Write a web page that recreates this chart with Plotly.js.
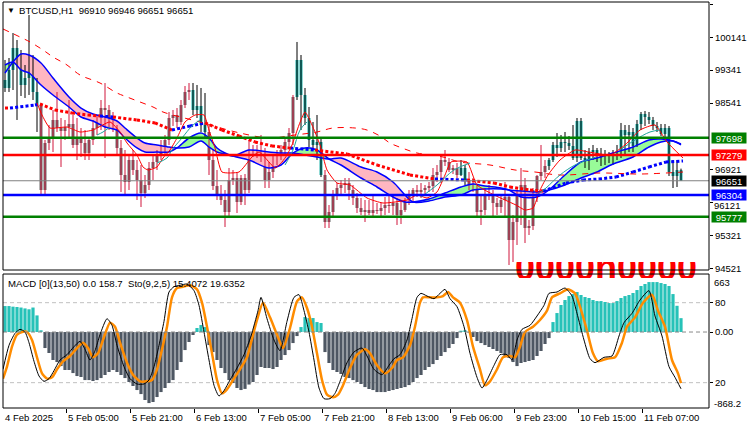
<!DOCTYPE html>
<html><head><meta charset="utf-8">
<script src="https://cdn.plot.ly/plotly-3.0.1.min.js"></script>
<style>html,body{margin:0;padding:0;background:#fff}#chart{width:750px;height:430px}</style>
</head><body><div id="chart"></div>
<script>
// ---------- DATA ----------
const symbolTitle = "BTCUSD,H1\u00a0\u00a096910 96946 96651 96651";
const macdTitle = "MACD [0](13,50) 0.0 158.7\u00a0\u00a0Sto(9,2,5) 15.4072 19.6352";

const open = [99101,98907,99345,99880,99466,98980,99150,99296,98810,98493,
96426,97569,97691,98129,97934,97861,97958,98031,97521,97691,
97569,97326,97642,97934,98080,98420,98372,98177,97934,97448,
96791,96621,97156,96913,96669,96353,96548,96961,97107,97277,
97448,97642,98177,98250,98080,98493,98810,98858,98372,98469,
98007,97837,97156,96523,96280,96183,95891,96669,96718,96134,
96718,96426,97399,97350,97326,97253,96669,96864,97156,97253,
97399,97594,97812,98688,99588,98737,98177,97642,97521,97594,
96791,95648,95891,96305,96475,96548,96596,96426,96232,95988,
95891,95940,95867,95940,95915,95988,96061,96037,96110,95818,
95940,96183,96305,96426,96378,96426,96475,96523,96791,96864,
97156,97107,96913,96961,96791,96961,96669,96523,96475,95891,
95940,96305,96280,96110,96013,96183,96256,95210,95648,96305,
96548,95502,95551,96426,96767,96864,97010,97156,97521,97448,
97594,97569,97496,97204,98104,97204,97156,97350,97399,97253,
97204,97277,97204,97277,97229,97885,97764,97837,97496,98031,
98275,98202,98129,97983,97934,97788,97934,96864,96767,96910];
const high = [99588,99636,100244,100074,99831,99466,100682,99709,99150,98542,
97642,98007,98372,98810,98177,98129,98615,98250,98177,97934,
97885,97691,98129,98250,98615,99028,98493,98323,98007,97642,
97399,97277,97399,97156,97034,96791,97107,97277,97399,97642,
97764,98323,98372,98420,98615,98955,99028,99028,98980,98907,
98785,98007,97399,96913,96548,96426,96961,96913,96864,96791,
96815,97642,97521,97521,97764,97448,97107,97277,97399,97521,
97691,97934,98737,100026,99709,98907,98445,98080,98250,97691,
96913,96061,96426,96596,96669,96718,96718,96548,96353,96232,
96183,96183,96305,96110,96134,96256,96280,96305,96232,96183,
96232,96426,96475,96548,96596,96548,96621,96961,97034,97253,
97399,97204,97034,97083,97156,97034,96864,96718,96548,96305,
96475,96548,96426,96232,96305,96621,96305,95818,96426,96961,
96718,95697,96475,96791,97521,97156,97204,97594,97812,97764,
97837,97739,98007,98177,98177,97399,97448,97521,97448,97448,
97399,97350,97399,97521,98056,98007,98007,97934,98129,98323,
98347,98323,98202,98080,98031,98031,97983,97156,97156,96946];
const low = [98810,98810,98858,98129,98712,98664,98737,98615,97837,96305,
96329,97399,97350,97837,96986,97642,97691,97448,97156,97229,
97156,97156,97521,97764,97885,97204,97885,97837,97277,96378,
96305,96426,96791,96183,96013,96232,96426,96669,96913,97156,
97277,97521,97983,97934,98007,98420,98615,98250,98177,97837,
97715,96791,96426,96183,96061,95526,95745,96548,95867,96061,
96061,96353,97229,97204,97107,96475,96475,96718,97034,97156,
97277,97496,97521,98615,97885,98007,97472,97399,97156,96742,
95502,95502,95745,96183,96280,96353,96183,96061,95867,95818,
95648,95818,95794,95843,95745,95818,95867,95818,95575,95599,
95891,96061,96110,96256,96232,96280,96378,96378,96621,96596,
97010,96864,96815,96718,96767,96548,96426,96378,95770,95575,
95818,96183,95770,95818,95867,95770,94602,94675,95089,95575,
95137,95332,95453,96134,96669,96718,96913,97107,97229,97350,
97350,97399,97156,97107,97156,96961,96913,97156,97107,97010,
97034,97083,97034,97156,97204,97277,97350,97350,97472,97885,
97983,98031,97885,97837,97739,97642,96767,96475,96499,96651];
const close = [98907,99345,99880,99466,98980,99150,99296,98810,98493,96426,
97569,97691,98129,97934,97861,97958,98031,97521,97691,97569,
97326,97642,97934,98080,98420,98372,98177,97934,97448,96791,
96621,97156,96913,96669,96353,96548,96961,97107,97277,97448,
97642,98177,98250,98080,98493,98810,98858,98372,98469,98007,
97837,97156,96523,96280,96183,95891,96669,96718,96134,96718,
96426,97399,97350,97326,97253,96669,96864,97156,97253,97399,
97594,97812,98688,99588,98737,98177,97642,97521,97594,96791,
95648,95891,96305,96475,96548,96596,96426,96232,95988,95891,
95940,95867,95940,95915,95988,96061,96037,96110,95818,95940,
96183,96305,96426,96378,96426,96475,96523,96791,96864,97156,
97107,96913,96961,96791,96961,96669,96523,96475,95891,95940,
96305,96280,96110,96013,96183,96256,95210,95648,96305,96548,
95502,95551,96426,96767,96864,97010,97156,97521,97448,97594,
97569,97496,97204,98104,97204,97156,97350,97399,97253,97204,
97277,97204,97277,97229,97885,97764,97837,97496,98031,98275,
98202,98129,97983,97934,97788,97934,96864,96767,96913,96651];
// bar-index ranges where candles are drawn in the "bull" (teal) colouring
const tealRanges = [[0,8],[47,50],[73,79],[114,115],[136,169]];

// MA cloud (fast / slow), keypoints at bar indices
const cloudX = [0,2,4,6,9,12,16,19,22,25,28,30,33,35,38,41,43,46,49,51,53,55,57,61,66,69,72,75,78,81,84,89,93,97,100,102,106,110,114,117,120,124,126,129,133,136,140,144,148,152,157,161,164,167,169];
const cloudFast = [99466,99539,99345,99272,98980,98737,98445,98202,98104,97958,97885,97691,97448,97350,97350,97350,97448,97691,97812,97691,97448,97326,97253,97156,96961,97034,97326,97448,97399,97180,97034,96718,96499,96256,96134,96134,96207,96353,96499,96572,96523,96475,96426,96256,96256,96426,96791,97107,97204,97326,97472,97642,97667,97618,97545];
const cloudSlow = [99272,99539,99734,99709,99515,99150,98688,98420,98275,98202,98104,97934,97691,97569,97521,97472,97448,97472,97618,97472,97350,97302,97253,97399,97350,97326,97326,97277,97229,97180,97204,96986,96864,96621,96305,96134,96159,96256,96305,96426,96451,96451,96426,96402,96378,96426,96548,96718,96864,97059,97229,97472,97594,97618,97521];

// dotted trend MA (colour code: r = red, b = blue)
const dotX = [0,1.25,7.5,8.75,12.5,16.75,20.75,23.75,27,33,37.5,41.75,46.25,50,54.25,58.5,62.5,66.75,71.25,77.5,85.5,93,101.25,107.5,115.5,122.25,126.25,131.25,134.5,140.25,144.5,148.5,152.75,157,161,165.25,169.5];
const dotY = [98420,98420,98493,98518,98372,98299,98250,98226,98202,98129,98056,97885,97983,98056,97885,97739,97594,97496,97448,97399,97302,97034,96791,96694,96669,96596,96499,96426,96402,96596,96669,96694,96742,96864,96986,97107,97132];
const dotC = ['r','b','b','r','r','r','r','b','r','r','r','b','b','r','r','r','r','r','b','r','r','r','r','b','r','r','r','r','b','b','b','b','b','b','b','b','b'];

// slow dashed red MA
const dashX = [-0.5,3.75,6.25,9.5,12,15.5,18.75,23.75,28,30.5,33.75,37,39.5,48.75,58.75,66.25,72.5,78,82,87.5,90.5,93.75,96.25,99.25,103,109.5,113.75,121.25,127.5,132.5,138.75,148.75,158.75,169.5];
const dashY = [100342,100147,100026,99831,99661,99466,99223,99028,98785,98688,98566,98445,98323,98080,97812,97691,97764,97837,97934,97934,97885,97739,97569,97448,97326,97229,97107,97034,96913,96864,96791,96840,96815,96864];

// thin fast red MA
const thinX = [8,9.25,11.25,15.5,18.75,22,26.25,28.75,30.5,33,34.5,35.75,38,39.5,41.25,43,45,47.5,49.75,51,52.5,54.25,58.5,61.75,63.5,66,67.5,69.25,70.5,71.75,73.5,75,76.75,78.75,80.5,83,86.25,90.5,94.5,100.5,103,105.5,108,110,111.5,115.5,118,122.25,125,127.75,130,132,133.75,135.75,138.75,142.5,146,151.25,155,158.75,162.5,165.5,169.5];
const thinY = [98542,98250,97934,97958,97837,97885,98080,97837,97569,97277,96986,96913,96986,97204,97399,97691,98080,98250,98250,97885,97448,96864,96864,97229,97350,97107,96961,97107,97277,97521,98007,98323,98007,97521,96913,96596,96548,96232,96110,96183,96305,96232,96378,96791,97107,97107,96548,96305,96183,96061,95940,95988,96426,96791,97156,97399,97350,97277,97521,97885,98007,97594,97204];

// thin teal line segments
const tealX = [23,24.5,26.25,null,38,40.5,41.75,44.25,46.75,48.75,null,70,72,73.75,75.5,null,104,108,112.25,116.25,null,133,135.25,138.75,142.5,147.75,null,153.75,157.5,161.25,163.75];
const tealY = [97764,97837,97958,null,97083,97204,97399,97691,97983,98129,null,97034,97399,97885,98080,null,96256,96548,96913,97083,null,96305,96475,96791,97034,97229,null,97399,97642,97837,97885];

// horizontal levels
const levelPrices = [97698, 97279, 96651, 96304, 95777];
const priceTicks = [100941,100141,99341,98541,96921,95321,94521];
const hiddenTick = 96121;   // label partly covered by the 96304 box

// MACD histogram per bar
const macd = [297,297,290,286,280,270,260,280,190,20,
-183,-240,-320,-343,-389,-434,-434,-469,-503,-514,
-549,-549,-560,-549,-526,-491,-457,-434,-457,-491,
-526,-571,-617,-663,-709,-777,-812,-800,-743,-686,
-640,-583,-549,-434,-343,-206,-114,-34,46,80,
57,-149,-229,-320,-411,-469,-549,-583,-640,-663,
-650,-600,-571,-491,-400,-411,-411,-423,-400,-320,
-263,-206,-126,-46,57,171,160,160,114,103,
-229,-354,-434,-457,-480,-514,-526,-549,-571,-594,
-629,-651,-663,-686,-686,-686,-674,-663,-651,-640,
-629,-606,-571,-526,-491,-434,-400,-366,-320,-274,
-229,-183,-137,-69,15,20,-5,-57,-103,-126,
-149,-171,-194,-217,-240,-286,-297,-343,-389,-354,
-343,-331,-320,-274,-217,-137,-69,114,217,309,
366,411,434,457,423,400,389,366,354,354,
343,331,331,354,389,411,423,446,480,526,
549,571,571,571,560,549,526,434,300,158.7];
const macdMax = 663, macdMin = -868.2;

// Stochastic signal (orange) and main (black) keypoints
const stoSigX = [-0.5,0.5,1.75,3,4.25,5.5,6.75,8,9.25,10.5,11.75,13,14.5,16.25,18,19.5,20.75,22,23.25,24.5,26.25,27.5,28.75,30.5,32,33.75,35.5,36.75,38,39.25,40.5,41.75,43,44.5,46.25,48,49.25,50.5,51.75,53,54.25,55.5,57,58.75,60.5,61.25,63,64.5,66.25,68,69.5,71.25,73,74.25,75.5,76.75,78,79.25,80.5,82,83.25,84.5,86.25,88,90,91.25,93,95,96.75,98,99.5,101.25,102.5,103.75,104.5,106.25,108,109.5,110.75,112,113.75,115.5,117,118.75,120,121.25,123,124.5,126.25,127.5,128.75,130,132,133.75,135.5,136.75,138.75,140.75,142.5,143.75,145.5,147,148.25,150.5,152.5,154.25,155.5,157.5,159.5,161.75,163.25,165,166.75,168.25,169];
const stoSigY = [23,32,47,56,58,58,52,39,27,23,24,30,36,40,46,50,46,39,42,52,65,62,50,35,26,21,21,22,30,45,62,84,91,92,93,90,80,62,42,22,12,15,22,30,39,47,67,80,69,56,46,61,81,84,76,62,42,22,11,9,11,18,31,41,45,42,33,27,31,37,39,48,62,80,84,84,84,85,88,84,80,67,47,30,18,21,30,39,40,39,47,58,62,67,74,84,87,90,87,77,59,42,36,38,39,50,62,69,80,86,74,62,37,27,19.6352];
const stoMainX = [-0.5,1,2.5,3.75,5,6,7.25,8.5,9.75,11,12.25,13.75,15.5,17.25,18.75,20,21.25,22.5,23.75,25.5,26.75,28,29.75,31.25,33,34.75,36,37.25,38.5,39.75,41,42.25,43.75,45.5,47.25,48.5,49.75,51,52.25,53.5,54.75,56.25,58,59.75,61.5,63.25,64,65.5,67.25,68.75,70.5,72.25,73.5,74.75,76,77.25,78.5,79.75,81.25,82.5,83.75,85.5,87.25,89.25,90.5,92.25,94.25,96,97.25,98.75,100.5,101.75,103,104,105.5,107.25,108.75,110,111.25,113,114.75,116.25,118,119.25,120.5,122.25,123.75,125.5,126.75,128,129.25,131.25,133,134.75,136,138,140,141.75,143,144.75,146.25,147.5,149.75,151.75,153.5,154.75,156.75,158.75,161,162.5,164.25,166,167.5,169];
const stoMainY = [30,48,57,60,58,50,36,25,21,23,29,37,41,47,51,45,37,44,56,68,63,48,32,23,19,19,22,32,48,66,88,92,93,94,89,78,58,37,18,10,14,22,31,41,55,74,84,68,52,44,66,84,86,74,58,37,16,8,8,12,21,35,43,46,40,30,26,33,38,41,52,68,84,87,85,83,87,90,83,77,62,42,24,16,22,33,41,41,37,52,60,63,70,78,87,88,91,85,72,52,38,35,39,40,55,65,72,82,89,70,55,32,24,15.4072];
const stoLevels = [80, 20];

// time axis labels (bar index of each label)
const tickBars = [0,16,32,48,64,80,96,112,128,144,160];
const timeLabels = ["4 Feb 2025","5 Feb 05:00","5 Feb 21:00","6 Feb 13:00","7 Feb 05:00","7 Feb 21:00","8 Feb 13:00","9 Feb 06:00","9 Feb 23:00","10 Feb 15:00","11 Feb 07:00"];
const clippedText = "0000n0000";

// ---------- STYLE ----------
const FONT = "Liberation Sans, Arial, sans-serif";
const C = {teal:'#20B2AA', gray:'#6B6B6B', crimson:'#D0163C', blue:'#0000FF', red:'#FF0000',
  pink:'#FFB6C1', lgreen:'#98FB98', green:'#008000', macdPos:'#26C2B8', macdNeg:'#4E5763', orange:'#FF8C00'};
const levelStyle = [
  {color:C.green, width:2.5, box:C.green},
  {color:C.red, width:2.5, box:C.red},
  {color:'#808080', width:1, box:'#000000'},
  {color:C.blue, width:2.5, box:C.blue},
  {color:C.green, width:2.5, box:C.green}];
const mainDom = [0.3399, 1], subDom = [0, 0.3300], stripDom = [0.3202, 0.3596];
const mainRange = [94481, 100998], xRange = [-0.5, 176];
const titleSize = 9.6;

// ---------- TRACES ----------
const traces = [];
const bars = open.map((_, i) => i);
const isTeal = i => tealRanges.some(r => i >= r[0] && i <= r[1]);

// cloud fills
const cross = [];
cloudFast.forEach((v, k) => { if (v === cloudSlow[k]) cross.push(k); });
const last = cloudX.length - 1;
const bounds = [0].concat(cross.filter(k => k !== 0 && k !== last)).concat([last]);
for (let b = 0; b < bounds.length - 1; b++) {
  const s = bounds[b], e = bounds[b + 1];
  let m = s; for (let k = s; k <= e; k++) if (cloudFast[k] !== cloudSlow[k]) { m = k; break; }
  const xs = [], ys = [];
  for (let k = s; k <= e; k++) { xs.push(cloudX[k]); ys.push(cloudFast[k]); }
  for (let k = e; k >= s; k--) {
    if ((k === e || k === s) && cloudFast[k] === cloudSlow[k]) continue;
    xs.push(cloudX[k]); ys.push(cloudSlow[k]);
  }
  traces.push({type:'scatter', mode:'lines', x:xs, y:ys, fill:'toself',
    fillcolor: cloudFast[m] < cloudSlow[m] ? C.pink : C.lgreen,
    line:{width:0, shape:'spline', smoothing:0.8}, xaxis:'x', yaxis:'y', hoverinfo:'skip', showlegend:false});
}

// candle bodies and wicks
function bodyTrace(sel, color) {
  const xs = [], base = [], h = [];
  bars.forEach(i => { if (sel(i)) {
    xs.push(i); base.push(Math.min(open[i], close[i]));
    h.push(Math.max(Math.abs(close[i] - open[i]), 22)); } });
  return {type:'bar', x:xs, y:h, base:base, width:0.75, marker:{color:color, line:{width:0}},
    xaxis:'x', yaxis:'y', hoverinfo:'skip', showlegend:false};
}
function wickTrace(sel, color) {
  const xs = [], ys = [];
  bars.forEach(i => { if (sel(i)) { xs.push(i, i, null); ys.push(low[i], high[i], null); } });
  return {type:'scatter', mode:'lines', x:xs, y:ys, line:{color:color, width:1},
    xaxis:'x', yaxis:'y', hoverinfo:'skip', showlegend:false, connectgaps:false};
}
traces.push(bodyTrace(i => !isTeal(i), C.gray));
traces.push(bodyTrace(i => isTeal(i), C.teal));
traces.push(wickTrace(i => !isTeal(i), C.crimson));
traces.push(wickTrace(i => isTeal(i), '#000000'));

// cloud borders
[cloudFast, cloudSlow].forEach(arr => traces.push({type:'scatter', mode:'lines', x:cloudX, y:arr,
  line:{color:C.blue, width:1.5, shape:'spline', smoothing:0.8}, xaxis:'x', yaxis:'y', hoverinfo:'skip', showlegend:false}));

// dotted trend MA
const dotSeg = {r:{x:[], y:[]}, b:{x:[], y:[]}};
for (let k = 0; k < dotX.length - 1; k++) {
  const s = dotSeg[dotC[k]];
  s.x.push(dotX[k], dotX[k + 1], null); s.y.push(dotY[k], dotY[k + 1], null);
}
[['r', C.red], ['b', C.blue]].forEach(([key, col]) => traces.push({type:'scatter', mode:'lines',
  x:dotSeg[key].x, y:dotSeg[key].y, line:{color:col, width:3, dash:'3px,2.2px'},
  xaxis:'x', yaxis:'y', hoverinfo:'skip', showlegend:false}));

// dashed slow MA
traces.push({type:'scatter', mode:'lines', x:dashX, y:dashY, line:{color:C.red, width:1, dash:'6px,6px', shape:'spline'},
  xaxis:'x', yaxis:'y', hoverinfo:'skip', showlegend:false});
// thin red
traces.push({type:'scatter', mode:'lines', x:thinX, y:thinY, line:{color:C.red, width:1, shape:'spline', smoothing:0.5},
  xaxis:'x', yaxis:'y', hoverinfo:'skip', showlegend:false});
// thin teal
traces.push({type:'scatter', mode:'lines', x:tealX, y:tealY, line:{color:'#1FA59C', width:1, shape:'spline'},
  xaxis:'x', yaxis:'y', hoverinfo:'skip', showlegend:false, connectgaps:false});

// MACD histogram
traces.push({type:'bar', x:bars, y:macd, width:0.8,
  marker:{color:macd.map(v => v >= 0 ? C.macdPos : C.macdNeg), line:{width:0}},
  xaxis:'x', yaxis:'y2', hoverinfo:'skip', showlegend:false});
// Stochastic
traces.push({type:'scatter', mode:'lines', x:stoSigX, y:stoSigY, line:{color:C.orange, width:2.5, shape:'spline', smoothing:0.6},
  xaxis:'x', yaxis:'y3', hoverinfo:'skip', showlegend:false});
traces.push({type:'scatter', mode:'lines', x:stoMainX, y:stoMainY, line:{color:'#000000', width:1, shape:'spline', smoothing:0.6},
  xaxis:'x', yaxis:'y3', hoverinfo:'skip', showlegend:false});

// big red text on the window boundary, clipped to a thin strip (only its lower part shows)
traces.push({type:'scatter', mode:'text', x:[150.25], y:[0.42], text:[clippedText], textposition:'middle center',
  textfont:{family:FONT, size:36, color:C.red, weight:'bold'}, cliponaxis:true,
  xaxis:'x', yaxis:'y4', hoverinfo:'skip', showlegend:false});

// ---------- SHAPES ----------
const shapes = [];
levelPrices.forEach((p, k) => shapes.push({type:'line', xref:'paper', x0:0, x1:1, yref:'y', y0:p, y1:p,
  line:{color:levelStyle[k].color, width:levelStyle[k].width}, layer:'above'}));
stoLevels.forEach(v => shapes.push({type:'line', xref:'paper', x0:0, x1:1, yref:'y3', y0:v, y1:v,
  line:{color:'#C0C0C0', width:1, dash:'4px,3px'}, layer:'below'}));
shapes.push({type:'line', xref:'paper', x0:0, x1:1, yref:'y2', y0:0, y1:0,
  line:{color:'#8A8A8A', width:1, dash:'4px,3px'}, layer:'above'});
[mainDom, subDom].forEach(d => shapes.push({type:'rect', xref:'paper', yref:'paper', x0:0, x1:1, y0:d[0], y1:d[1],
  line:{color:'#000000', width:1}, layer:'above'}));

// ---------- ANNOTATIONS ----------
const ann = [];
ann.push({xref:'paper', yref:'paper', x:0.003, y:0.980, xanchor:'left', yanchor:'middle', showarrow:false,
  text:'\u25BC', font:{family:FONT, size:8, color:'#000'}});
ann.push({xref:'paper', yref:'paper', x:0.0195, y:0.980, xanchor:'left', yanchor:'middle', showarrow:false,
  text:symbolTitle, font:{family:FONT, size:titleSize, color:'#000'}});
ann.push({xref:'paper', yref:'paper', x:0.004, y:0.3075, xanchor:'left', yanchor:'middle', showarrow:false,
  text:macdTitle, font:{family:FONT, size:titleSize, color:'#000'}});
// partly hidden tick label, nudged just below the 96304 box
ann.push({xref:'paper', yref:'y', x:1, y:hiddenTick, xanchor:'left', yanchor:'middle', xshift:3, yshift:-3, showarrow:false,
  text:String(hiddenTick), font:{family:FONT, size:9.5, color:'#000'}});
levelPrices.forEach((p, k) => ann.push({xref:'paper', yref:'y', x:1, y:p, xanchor:'left', yanchor:'middle', xshift:1.5,
  showarrow:false, text:String(p), bgcolor:levelStyle[k].box, width:33, height:9, borderpad:0.5,
  font:{family:FONT, size:9.5, color:'#FFFFFF'}}));
ann.push({xref:'paper', yref:'paper', x:1, y:0.3103, xanchor:'left', yanchor:'middle', xshift:3, showarrow:false,
  text:String(macdMax), font:{family:FONT, size:9.5, color:'#000'}});
ann.push({xref:'paper', yref:'paper', x:1, y:0.0123, xanchor:'left', yanchor:'middle', xshift:3, showarrow:false,
  text:String(macdMin), font:{family:FONT, size:9.5, color:'#000'}});
tickBars.forEach((b, k) => ann.push({xref:'x', yref:'paper', x:Math.max(b - 0.7, xRange[0] + 0.05), y:-0.0246,
  xanchor:'left', yanchor:'middle', showarrow:false, text:timeLabels[k], font:{family:FONT, size:9.5, color:'#000'}}));

// ---------- LAYOUT ----------
const layout = {
  width:750, height:430, margin:{l:3, r:41, t:2, b:22}, paper_bgcolor:'#FFFFFF', plot_bgcolor:'rgba(0,0,0,0)',
  font:{family:FONT, size:9.5, color:'#000'}, showlegend:false, barmode:'overlay', hovermode:false,
  xaxis:{range:xRange, anchor:'y2', showgrid:false, zeroline:false, showline:false,
    tickvals:tickBars.map(b => b - 0.75), ticks:'outside', ticklen:4, tickcolor:'#000', showticklabels:false},
  yaxis:{domain:mainDom, range:mainRange, side:'right', anchor:'x', showgrid:false, zeroline:false,
    tickvals:priceTicks.concat([hiddenTick]), ticktext:priceTicks.map(String).concat(['']), ticks:'outside', ticklen:3, tickcolor:'#000',
    tickfont:{family:FONT, size:9.5, color:'#000'}},
  yaxis2:{domain:subDom, range:[macdMin, macdMax], side:'right', anchor:'x', showgrid:false, zeroline:false,
    tickvals:[0], ticktext:['0.00'], ticks:'outside', ticklen:3, tickcolor:'#000',
    tickfont:{family:FONT, size:9.5, color:'#000'}},
  yaxis3:{overlaying:'y2', range:[1.0, 101.5], side:'right', anchor:'x', showgrid:false, zeroline:false,
    tickvals:stoLevels, ticktext:stoLevels.map(String), ticks:'outside', ticklen:3, tickcolor:'#000',
    tickfont:{family:FONT, size:9.5, color:'#000'}},
  yaxis4:{domain:stripDom, range:[0, 1], anchor:'x', visible:false, showgrid:false, zeroline:false, fixedrange:true},
  shapes:shapes, annotations:ann
};
Plotly.newPlot('chart', traces, layout, {staticPlot:true, displayModeBar:false});
</script></body></html>
